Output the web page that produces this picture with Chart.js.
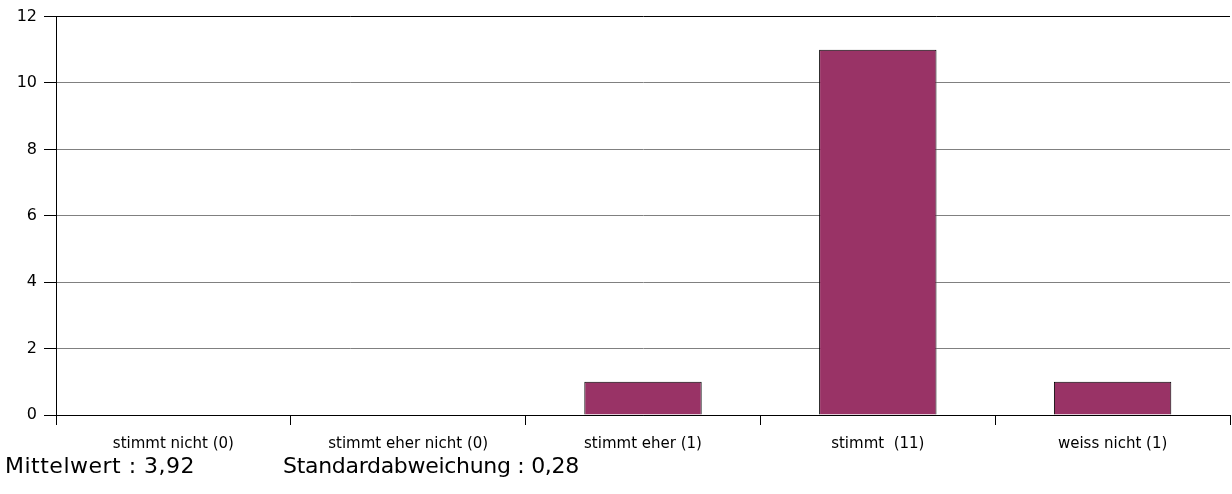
<!DOCTYPE html>
<html><head><meta charset="utf-8">
<script src="https://cdn.jsdelivr.net/npm/chart.js@4/dist/chart.umd.min.js"></script>
<style>
html,body{margin:0;padding:0;background:#fff;}
#wrap{position:relative;width:1232px;height:494px;}
canvas{position:absolute;left:0;top:0;}
.stat{position:absolute;top:453px;font-family:"DejaVu Sans",sans-serif;font-size:22px;color:#000;white-space:nowrap;}
</style></head>
<body>
<div id="wrap">
<canvas id="c" width="1232" height="494"></canvas>
<div class="stat" style="left:5px;letter-spacing:0.5px">Mittelwert : 3,92</div>
<div class="stat" style="left:283px;letter-spacing:-0.3px">Standardabweichung : 0,28</div>
</div>
<script>
const categories = ["stimmt nicht (0)", "stimmt eher nicht (0)", "stimmt eher (1)", "stimmt  (11)", "weiss nicht (1)"];
const counts = [0, 0, 1, 11, 1];
const yMin = 0, yMax = 12, yStep = 2;

const FONT = "'DejaVu Sans',sans-serif";
new Chart(document.getElementById('c'), {
  type: 'bar',
  data: { labels: categories, datasets: [{ data: counts, backgroundColor: '#993366', borderColor: '#000', borderWidth: 1, barPercentage: 0.5, categoryPercentage: 1.0 }] },
  options: {
    responsive: false, animation: false,
    layout: { padding: { left: 0, top: 16, right: 2, bottom: 0 } },
    plugins: { legend: { display: false }, tooltip: { enabled: false } },
    scales: {
      x: {
        grid: { offset: true, drawOnChartArea: false, tickLength: 10, tickColor: '#000', lineWidth: 1 },
        border: { color: '#000' },
        ticks: { font: { family: FONT, size: 15 }, color: '#000', padding: 10, maxRotation: 0, autoSkip: false },
        afterFit: s => { s.height = 494 - 415; }
      },
      y: {
        min: yMin, max: yMax,
        grid: { color: ctx => (ctx.tick && (ctx.tick.value === 12 || ctx.tick.value === 0)) ? '#000' : '#808080', tickLength: 12, tickColor: '#000', drawTicks: true },
        border: { color: '#000' },
        ticks: { stepSize: yStep, font: { family: FONT, size: 16 }, color: '#000', padding: 7 },
        afterFit: s => { s.width = 56; }
      }
    }
  }
});
</script>
</body></html>
